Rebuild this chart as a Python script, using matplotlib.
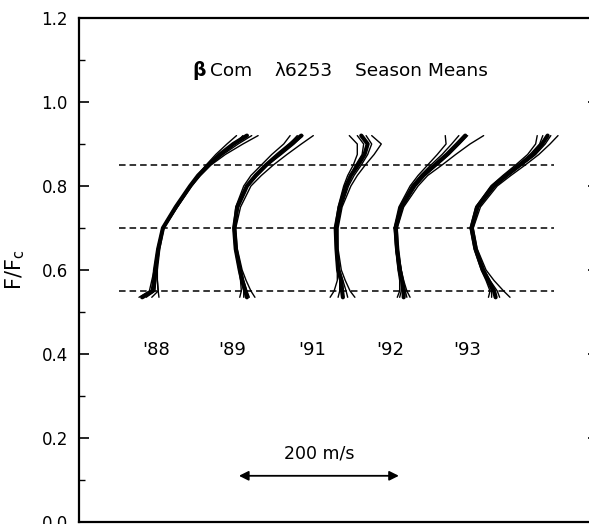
import matplotlib
matplotlib.use("Agg")
import matplotlib.pyplot as plt
import numpy as np

plt.rcParams['font.family'] = ['DejaVu Sans']

# Depth levels (F/Fc) at which the bisector velocities were read
levels = [0.535, 0.55, 0.575, 0.60, 0.65, 0.70, 0.75, 0.80, 0.825, 0.85, 0.875, 0.90, 0.92]

# Velocities (m/s, arbitrary zero) -- first row of each season = season mean (thick)
v88 = [
    [79, 92, 94, 95, 99, 105, 121, 139, 149, 162, 176, 193, 210],
    [75, 88, 91, 94, 98, 104, 120, 138, 148, 159, 171, 185, 197],
    [84, 95, 96, 97, 100, 106, 123, 140, 151, 164, 180, 199, 216],
    [91, 99, 98, 98, 101, 106, 123, 141, 152, 165, 183, 205, 224],
    [100, 99, 98, 97, 99, 105, 122, 139, 150, 163, 178, 195, 205],
]
v89 = [
    [210, 208, 204, 201, 196, 194, 198, 210, 221, 234, 249, 265, 278],
    [201, 203, 202, 200, 195, 193, 196, 206, 215, 228, 241, 256, 264],
    [213, 210, 206, 203, 197, 195, 199, 211, 223, 236, 253, 269, 280],
    [220, 215, 209, 204, 198, 196, 202, 215, 228, 243, 260, 278, 293],
    [206, 206, 203, 201, 196, 194, 198, 209, 220, 233, 248, 263, 273],
]
v91 = [
    [330, 329, 328, 324, 322, 321, 326, 334, 340, 349, 357, 361, 353],
    [314, 319, 323, 323, 321, 320, 324, 331, 336, 343, 348, 348, 338],
    [336, 334, 330, 326, 323, 323, 328, 337, 344, 353, 361, 366, 359],
    [345, 339, 333, 328, 324, 324, 329, 340, 348, 358, 369, 378, 366],
    [324, 326, 326, 324, 321, 321, 325, 333, 339, 346, 354, 356, 348],
]
v92 = [
    [406, 406, 404, 401, 398, 396, 403, 419, 430, 445, 460, 473, 483],
    [398, 401, 401, 399, 396, 394, 400, 414, 424, 436, 448, 459, 458],
    [410, 408, 405, 403, 398, 397, 404, 421, 433, 448, 463, 476, 486],
    [414, 410, 406, 403, 399, 398, 406, 424, 436, 454, 471, 489, 506],
    [401, 403, 403, 400, 396, 395, 401, 416, 427, 440, 454, 466, 475],
]
v93 = [
    [521, 519, 512, 505, 496, 491, 498, 518, 534, 551, 568, 579, 586],
    [512, 514, 509, 503, 494, 489, 496, 515, 530, 546, 561, 571, 573],
    [526, 523, 514, 507, 497, 492, 500, 521, 537, 554, 571, 583, 590],
    [539, 531, 519, 509, 498, 493, 502, 523, 540, 558, 575, 589, 599],
    [516, 516, 510, 504, 495, 490, 497, 516, 532, 549, 564, 576, 580],
]
seasons = [v88, v89, v91, v92, v93]
season_labels = ["'88", "'89", "'91", "'92", "'93"]
label_x = [97, 192, 291, 389, 485]
label_y = 0.41

ref_levels = [0.55, 0.70, 0.85]
ref_xrange = [50, 594]
scale_bar = [200, 400]

fig = plt.figure(figsize=(5.89, 5.24), dpi=100)
ax = fig.add_axes([79/589, 2/524, 519/589, 504/524])
ax.set_xlim(0, 649)
ax.set_ylim(0, 1.2)

for yl in ref_levels:
    ax.plot(ref_xrange, [yl, yl], color='black', lw=1.1, dashes=(4.3, 2.6))

for s in seasons:
    for c in s[1:]:
        ax.plot(c, levels, color='black', lw=1.0, solid_capstyle='round')
    ax.plot(s[0], levels, color='black', lw=3.0, solid_capstyle='round',
            solid_joinstyle='round')

for x, t in zip(label_x, season_labels):
    ax.text(x, label_y, t, ha='center', va='center', fontsize=13)

# Title (pieces placed as in the original)
ty = 1.074
ax.text(142, ty, "β", ha='left', va='center', fontsize=13.5, fontweight='bold')
ax.text(164, ty, "Com", ha='left', va='center', fontsize=13.3)
ax.text(245, ty, "λ6253", ha='left', va='center', fontsize=13.3)
ax.text(511, ty, "Season Means", ha='right', va='center', fontsize=13.3)

# scale bar
ax.annotate('', xy=(scale_bar[1], 0.11), xytext=(scale_bar[0], 0.11),
            arrowprops=dict(arrowstyle='<|-|>', color='black', lw=1.3,
                            mutation_scale=14, shrinkA=0, shrinkB=0))
ax.text(sum(scale_bar) / 2, 0.162, "200 m/s", ha='center', va='center', fontsize=12.5)

ax.set_ylabel("F/F$_\\mathrm{c}$", fontsize=15, labelpad=10)
ax.set_yticks([0.0, 0.2, 0.4, 0.6, 0.8, 1.0, 1.2])
ax.set_yticklabels(["0.0", "0.2", "0.4", "0.6", "0.8", "1.0", "1.2"])
ax.set_yticks(np.arange(0.1, 1.2, 0.2), minor=True)
ax.tick_params(axis='y', which='major', direction='in', length=7, width=1.2,
               labelsize=12, pad=8, right=True)
ax.tick_params(axis='y', which='minor', direction='in', length=4, width=1.0, right=True)
ax.set_xticks([])
for sp in ax.spines.values():
    sp.set_linewidth(1.6)

fig.savefig('out.png', dpi=100)
